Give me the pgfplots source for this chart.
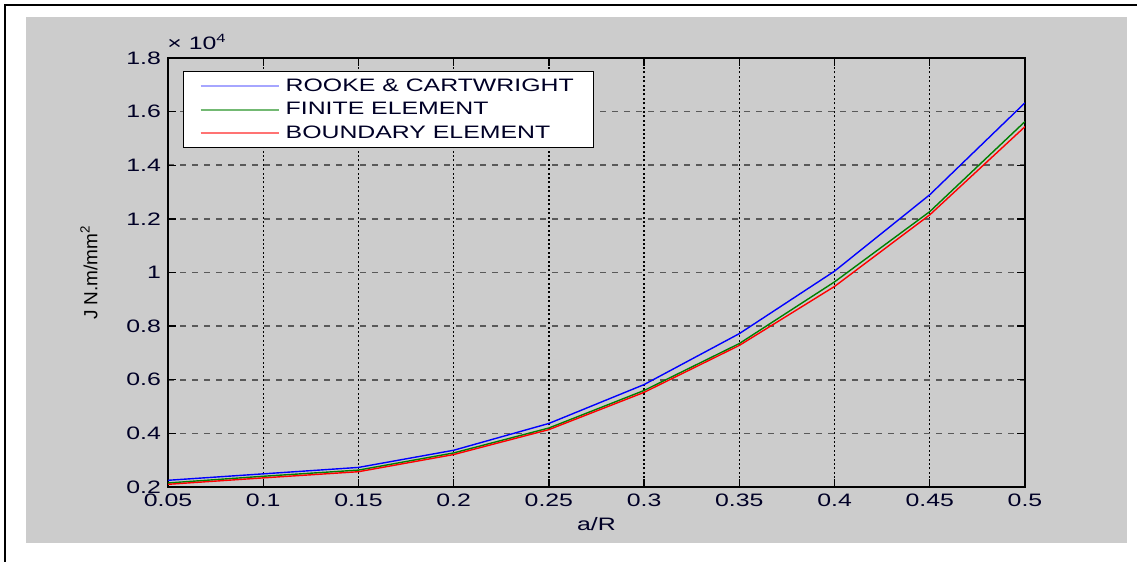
\documentclass[border=0pt]{standalone}
\usepackage{fontspec}
\setmainfont{Liberation Sans}[FakeStretch=1.38]
\newfontfamily\plainsans{Liberation Sans}
\usepackage{pgfplots}
\pgfplotsset{compat=1.18}
\definecolor{panel}{RGB}{204,204,204}
\definecolor{mblue}{RGB}{0,0,255}
\definecolor{mgreen}{RGB}{0,128,0}
\definecolor{mred}{RGB}{255,0,0}
\begin{document}
\begin{tikzpicture}
\useasboundingbox (0pt,0pt) rectangle (568.5pt,281pt);
\fill[panel] (13pt,9.5pt) rectangle (563.5pt,272.5pt);
\draw[line width=1pt] (2.5pt,0pt) -- (2.5pt,278.5pt) -- (568.5pt,278.5pt);
\begin{axis}[
  name=ax,
  at={(84pt,37.5pt)}, anchor=south west,
  scale only axis, width=428.5pt, height=214.5pt,
  xmin=0.05, xmax=0.5, ymin=0.2, ymax=1.8,
  xtick={0.05,0.1,0.15,0.2,0.25,0.3,0.35,0.4,0.45,0.5},
  xticklabels={0.05,0.1,0.15,0.2,0.25,0.3,0.35,0.4,0.45,0.5},
  ytick={0.2,0.4,0.6,0.8,1,1.2,1.4,1.6,1.8},
  yticklabels={0.2,0.4,0.6,0.8,1,1.2,1.4,1.6,1.8},
  /pgf/number format/assume math mode=true,
  ticklabel style={font=\fontsize{9}{10}\selectfont, text=black!85!blue},
  tick align=inside, major tick length=4pt,
  tick style={black, line width=0.7pt},
  axis line style={black, line width=0.9pt},
  grid=major,
  x grid style={black, line width=0.7pt, dash pattern=on 1pt off 1.2pt},
  y grid style={black!65, line width=0.8pt, dash pattern=on 3pt off 3pt},
  xlabel={a/R},
  xlabel style={at={(axis description cs:0.5,0)}, anchor=center, yshift=-18.5pt, font=\fontsize{9}{10}\selectfont, text=black!85!blue},
  ylabel={\plainsans J N.m/mm\textsuperscript{2}},
  ylabel style={at={(axis description cs:-0.0922,0.5)}, anchor=center, font=\fontsize{9.5}{10}\selectfont},
  legend style={at={(0.0175,0.9697)}, anchor=north west, draw=black, line width=0.7pt, fill=white,
    inner xsep=8pt, inner ysep=2.75pt,
    nodes={inner xsep=2pt, inner ysep=0pt, text height=7pt, text depth=2pt, text=black!85!blue},
    row sep=2.75pt, column sep=1pt,
    font=\fontsize{9}{10}\selectfont},
  legend cell align=left,
  legend image code/.code={\draw[#1, line width=1pt] (0pt,0pt) -- (39pt,0pt);},
]
\addplot[mblue, line width=0.7pt, legend image post style={mblue!35!white}] coordinates {
(0.05,0.225) (0.1,0.249) (0.15,0.273) (0.2,0.337) (0.25,0.437)
(0.3,0.582) (0.35,0.772) (0.4,1.005) (0.45,1.29) (0.5,1.633)};
\addlegendentry{ROOKE \& CARTWRIGHT}
\addplot[mgreen, line width=0.7pt, legend image post style={mgreen!55!white}] coordinates {
(0.05,0.215) (0.1,0.240) (0.15,0.263) (0.2,0.327) (0.25,0.420)
(0.3,0.560) (0.35,0.735) (0.4,0.965) (0.45,1.227) (0.5,1.563)};
\addlegendentry{FINITE ELEMENT}
\addplot[mred, line width=0.7pt, legend image post style={mred!55!white}] coordinates {
(0.05,0.210) (0.1,0.234) (0.15,0.257) (0.2,0.321) (0.25,0.414)
(0.3,0.553) (0.35,0.728) (0.4,0.948) (0.45,1.215) (0.5,1.544)};
\addlegendentry{BOUNDARY ELEMENT}
\end{axis}
\node[anchor=base west, inner sep=0pt, font=\fontsize{9}{10}\selectfont, text=black!85!blue] at ([xshift=-0.5pt,yshift=4pt]ax.north west) {× 10\textsuperscript{4}};
\end{tikzpicture}
\end{document}
